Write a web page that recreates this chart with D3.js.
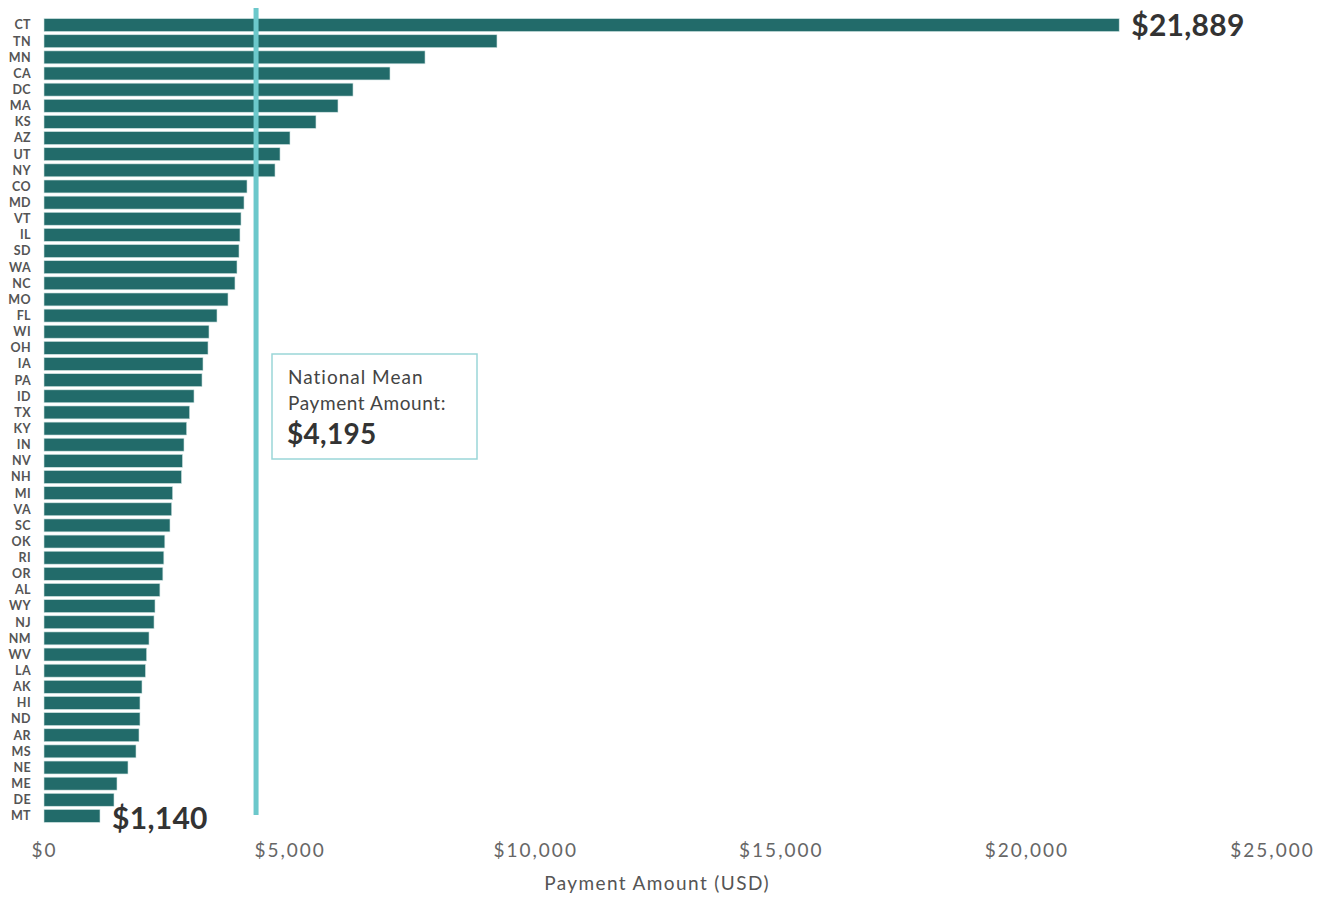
<!DOCTYPE html>
<html>
<head>
<meta charset="utf-8">
<script src="https://cdn.jsdelivr.net/npm/d3@7"></script>
<style>
  body { margin: 0; background: #fff; }
  text { font-family: Lato, "Open Sans", sans-serif; }
</style>
</head>
<body>
<script>
// chart data
var states = ['CT','TN','MN','CA','DC','MA','KS','AZ','UT','NY','CO','MD','VT','IL','SD','WA','NC','MO','FL','WI',
  'OH','IA','PA','ID','TX','KY','IN','NV','NH','MI','VA','SC','OK','RI','OR','AL','WY','NJ','NM','WV',
  'LA','AK','HI','ND','AR','MS','NE','ME','DE','MT'];
var payments = [21889,9222,7757,7044,6291,5985,5537,5008,4805,4703,4133,4072,4011,3990,3970,3929,3888,3746,3522,3359,
  3339,3237,3217,3054,2965,2905,2850,2820,2800,2620,2600,2565,2460,2440,2420,2360,2260,2240,2138,2090,
  2066,1995,1954,1954,1934,1873,1710,1486,1425,1140];
var meanPayment = 4195;
var xTicks = [0,5000,10000,15000,20000,25000];

var width = 1327;
var height = 897;
var svg = d3.select('body').append('svg')
  .attr('width', width)
  .attr('height', height);

var x = d3.scaleLinear().domain([0, 25000]).range([44, 1272]);
var y = d3.scaleBand().domain(states).range([17, 824]).paddingInner(0.2).paddingOuter(0.1);

var fmt = function(v){ return '$' + d3.format(',')(v); };

// bars
svg.selectAll('rect.bar').data(states)
  .enter()
  .append('rect')
  .attr('class', 'bar')
  .attr('x', x(0))
  .attr('y', function(d){ return y(d); })
  .attr('width', function(d, i){ return x(payments[i]) - x(0); })
  .attr('height', y.bandwidth())
  .style('fill', '#226b6a')
  .style('stroke', '#cfe3e2')
  .style('stroke-width', 0.6);

// state labels
svg.selectAll('text.state').data(states)
  .enter()
  .append('text')
  .attr('class', 'state')
  .attr('x', 31)
  .attr('y', function(d){ return y(d) + y.bandwidth() / 2; })
  .attr('dy', '0.35em')
  .attr('text-anchor', 'end')
  .style('font-size', '12.5px')
  .style('font-weight', 'bold')
  .style('letter-spacing', '0.4px')
  .style('fill', '#555')
  .text(function(d){ return d; });

// mean line
svg.append('line')
  .attr('x1', x(meanPayment) + 6)
  .attr('x2', x(meanPayment) + 6)
  .attr('y1', 8)
  .attr('y2', 815)
  .style('stroke', '#6cc8cb')
  .style('stroke-width', 5);

// max / min value labels
var last = states.length - 1;
svg.append('text')
  .attr('x', x(payments[0]) + 12)
  .attr('y', y(states[0]) + y.bandwidth() / 2 + 11)
  .style('font-size', '30px')
  .style('font-weight', 'bold')
  .style('letter-spacing', '0.3px')
  .style('fill', '#333')
  .text(fmt(payments[0]));
svg.append('text')
  .attr('x', x(payments[last]) + 12)
  .attr('y', y(states[last]) + y.bandwidth() / 2 + 13)
  .style('font-size', '30px')
  .style('font-weight', 'bold')
  .style('letter-spacing', '0.3px')
  .style('fill', '#333')
  .text(fmt(payments[last]));

// callout box
var box = svg.append('g').attr('transform', 'translate(272,354)');
box.append('rect')
  .attr('width', 205)
  .attr('height', 105)
  .style('fill', '#fff')
  .style('stroke', '#9ad6d8')
  .style('stroke-width', 1.5);
box.append('text').attr('x', 16).attr('y', 30)
  .style('font-size', '19px').style('letter-spacing', '1px').style('fill', '#444').text('National Mean');
box.append('text').attr('x', 16).attr('y', 56)
  .style('font-size', '19px').style('letter-spacing', '0.6px').style('fill', '#444').text('Payment Amount:');
box.append('text').attr('x', 15).attr('y', 90)
  .style('font-size', '28px').style('font-weight', 'bold').style('letter-spacing', '0.3px').style('fill', '#333').text(fmt(meanPayment));

// x axis
var xAxis = d3.axisBottom(x).tickValues(xTicks).tickFormat(fmt).tickSize(0).tickPadding(0);
var gx = svg.append('g').attr('transform', 'translate(0,843)').call(xAxis);
gx.select('.domain').remove();
gx.selectAll('text')
  .attr('dy', '0.71em')
  .style('font-family', 'Lato, sans-serif')
  .style('font-size', '19px')
  .style('letter-spacing', '2px')
  .style('fill', '#666');

svg.append('text')
  .attr('x', 657)
  .attr('y', 890)
  .attr('text-anchor', 'middle')
  .style('font-size', '19px')
  .style('letter-spacing', '1.4px')
  .style('fill', '#555')
  .text('Payment Amount (USD)');
</script>
</body>
</html>
